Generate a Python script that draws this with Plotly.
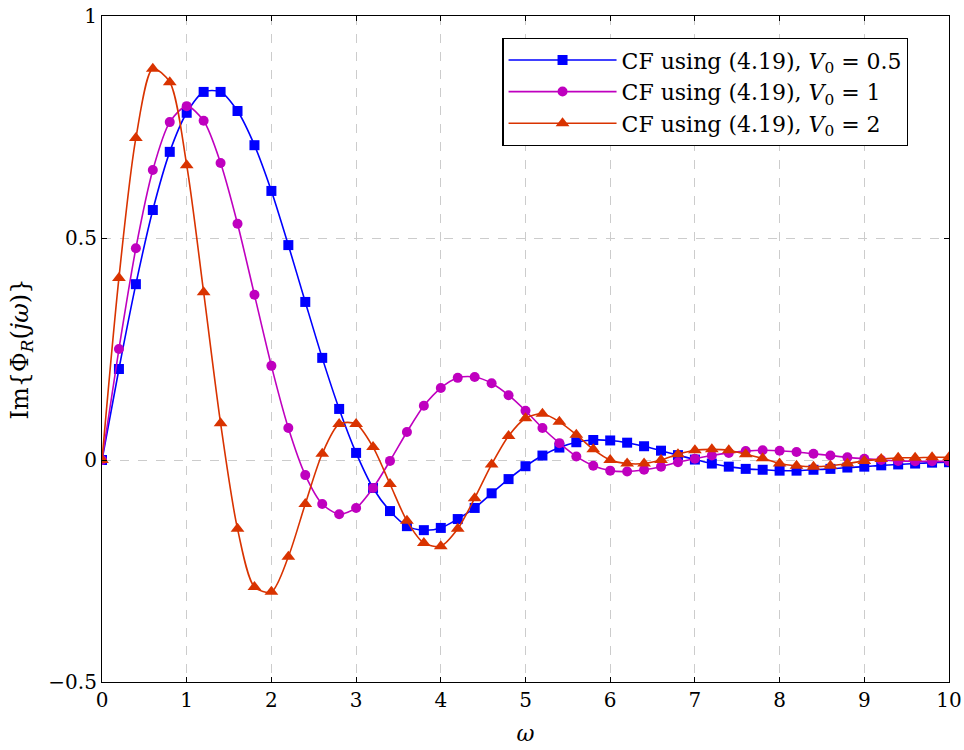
import plotly.graph_objects as go

omega = [round(0.2 * i, 1) for i in range(51)]

im_v05 = [0.000, 0.205, 0.396, 0.563, 0.694, 0.782, 0.829, 0.829, 0.786, 0.709,
          0.606, 0.484, 0.356, 0.230, 0.115, 0.016, -0.063, -0.115, -0.149, -0.158,
          -0.153, -0.133, -0.108, -0.075, -0.043, -0.014, 0.010, 0.028, 0.040, 0.045,
          0.044, 0.039, 0.031, 0.021, 0.011, 0.001, -0.008, -0.015, -0.020, -0.022,
          -0.024, -0.024, -0.022, -0.020, -0.017, -0.015, -0.012, -0.010, -0.008, -0.006,
          -0.005]

im_v1 = [0.000, 0.250, 0.477, 0.653, 0.761, 0.797, 0.764, 0.669, 0.532, 0.372,
         0.212, 0.072, -0.034, -0.099, -0.122, -0.108, -0.063, -0.002, 0.063, 0.122,
         0.162, 0.185, 0.187, 0.173, 0.146, 0.111, 0.072, 0.038, 0.008, -0.013,
         -0.024, -0.026, -0.022, -0.015, -0.005, 0.003, 0.010, 0.016, 0.020, 0.022,
         0.021, 0.018, 0.014, 0.010, 0.006, 0.003, 0.000, -0.002, -0.003, -0.003,
         -0.003]

im_v2 = [0.000, 0.410, 0.725, 0.881, 0.851, 0.664, 0.378, 0.083, -0.155, -0.286,
         -0.297, -0.218, -0.099, 0.014, 0.081, 0.081, 0.029, -0.054, -0.137, -0.187,
         -0.194, -0.155, -0.086, -0.010, 0.054, 0.094, 0.104, 0.086, 0.057, 0.024,
         0.000, -0.008, -0.008, 0.000, 0.013, 0.022, 0.024, 0.022, 0.013, 0.004,
         -0.008, -0.013, -0.015, -0.013, -0.008, -0.002, 0.002, 0.005, 0.005, 0.006,
         0.006]

names = ["CF using (4.19), <i>V</i><sub>0</sub> = 0.5",
         "CF using (4.19), <i>V</i><sub>0</sub> = 1",
         "CF using (4.19), <i>V</i><sub>0</sub> = 2"]
colors = ["#0000FF", "#BF00BF", "#D93300"]
symbols = ["square", "circle", "triangle-up"]
sizes = [10, 10, 12]

FONT = "DejaVu Serif"

fig = go.Figure()
for ys, nm, c, s, sz in zip([im_v05, im_v1, im_v2], names, colors, symbols, sizes):
    fig.add_trace(go.Scatter(
        x=omega, y=ys, name=nm, mode="lines+markers",
        line=dict(color=c, width=1.6, shape="spline", smoothing=0.8),
        marker=dict(symbol=s, size=sz, color=c, line=dict(width=0)),
    ))

axis_common = dict(
    showline=True, linecolor="black", linewidth=1.2, mirror="allticks",
    ticks="inside", ticklen=5, tickcolor="black", tickwidth=1,
    showgrid=True, gridcolor="#CCCCCC", griddash="dash", gridwidth=1,
    zeroline=False, automargin=False, ticklabeloverflow="allow",
    tickfont=dict(family=FONT, size=20, color="black"),
)

fig.update_xaxes(range=[0, 10], dtick=1, tick0=0,
                 title=dict(text="<i>ω</i>", font=dict(family=FONT, size=22, color="black"), standoff=14),
                 **axis_common)
fig.update_yaxes(range=[-0.5, 1], tickvals=[-0.5, 0, 0.5, 1], ticktext=["−0.5", "0", "0.5", "1"],
                 title=dict(text="Im{Φ<sub><i>R</i></sub>(<i>jω</i>)}", font=dict(family=FONT, size=24, color="black"), standoff=12),
                 **axis_common)

fig.update_layout(
    width=964, height=750,
    margin=dict(l=102, r=15, t=16, b=68),
    plot_bgcolor="white", paper_bgcolor="white",
    font=dict(family=FONT, color="black"),
    legend=dict(x=0.952, y=0.967, xanchor="right", yanchor="top",
                bgcolor="white", bordercolor="black", borderwidth=1.2,
                font=dict(family=FONT, size=22, color="black"),
                itemwidth=108, tracegroupgap=0),
    showlegend=True,
)

fig.write_html("out.html",
               config={"displayModeBar": False},
               post_script="document.body.style.margin='0';document.body.style.overflow='hidden';")
